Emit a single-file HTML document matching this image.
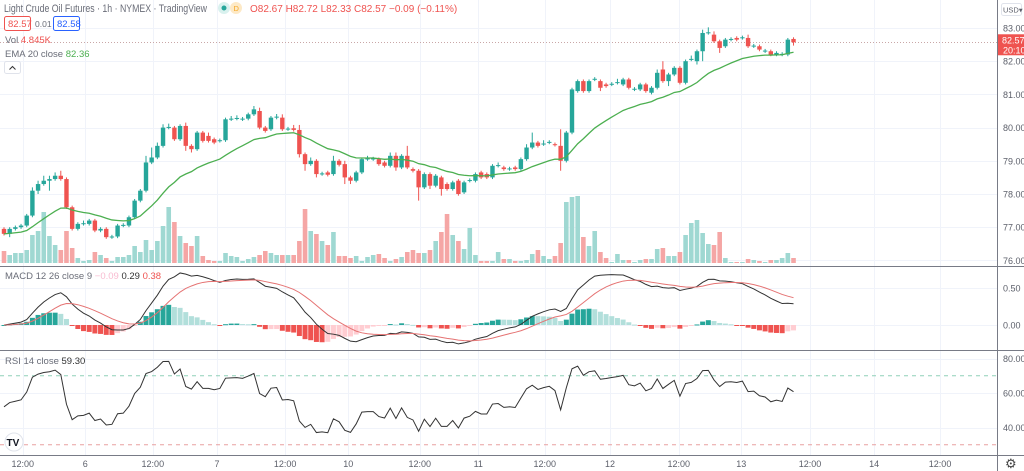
<!DOCTYPE html>
<html><head><meta charset="utf-8"><style>
html,body{margin:0;padding:0;background:#fff;width:1024px;height:471px;overflow:hidden;font-family:"Liberation Sans",sans-serif}
svg text{font-family:"Liberation Sans",sans-serif}
</style></head><body>
<svg id="chart" width="1024" height="471" xmlns="http://www.w3.org/2000/svg">
<g id="grid"></g>
<g id="vol"></g>
<g id="candles"></g>
<g id="ema"></g>
<g id="macd"></g>
<g id="rsi"></g>
<g id="axes"></g>
<g font-size="12">
  <text x="4" y="12" font-size="10.8" fill="#6a6d78" textLength="203" lengthAdjust="spacingAndGlyphs">Light Crude Oil Futures · 1h · NYMEX · TradingView</text>
  <circle cx="224" cy="8" r="6" fill="#d9f1ee"/>
  <circle cx="224" cy="8" r="2.5" fill="#26a69a"/>
  <circle cx="236" cy="8" r="6" fill="#fde9c6"/>
  <text x="233.5" y="11" font-size="7.5" fill="#f5a623">D</text>
  <text x="250" y="12" fill="#ef5350" font-size="10">O82.67 H82.72 L82.33 C82.57 −0.09 (−0.11%)</text>
  <rect x="4.5" y="16.5" width="26" height="14" rx="2" fill="#fff" stroke="#ef5350"/>
  <text x="8" y="27" font-size="9.5" fill="#ef5350">82.57</text>
  <text x="35" y="27" font-size="8.5" fill="#6a6d78">0.01</text>
  <rect x="53.5" y="16.5" width="26" height="14" rx="2" fill="#fff" stroke="#2962ff"/>
  <text x="57" y="27" font-size="9.5" fill="#2962ff">82.58</text>
  <text x="5" y="43" font-size="9.5" fill="#6a6d78">Vol <tspan fill="#ef5350">4.845K</tspan></text>
  <text x="5" y="57" font-size="9.5" fill="#6a6d78">EMA 20 close <tspan fill="#4caf50">82.36</tspan></text>
  <rect x="4.5" y="61.5" width="16" height="12" rx="2" fill="#fff" stroke="#e0e3eb"/>
  <path d="M9.5 69.5 L12.5 66.5 L15.5 69.5" fill="none" stroke="#333"/>
  <text x="5" y="279" font-size="9.5" fill="#6a6d78">MACD 12 26 close 9 <tspan fill="#f8bbd0">−0.09</tspan> <tspan fill="#333">0.29</tspan> <tspan fill="#ef5350">0.38</tspan></text>
  <text x="5" y="364" font-size="9.5" fill="#6a6d78">RSI 14 close <tspan fill="#333">59.30</tspan></text>
  <circle cx="14" cy="442" r="9" fill="#fff" stroke="#e0e3eb"/>
  <text x="6.5" y="446" font-size="10" font-weight="bold" fill="#131722">TV</text>
</g>
</svg>
<script>
const opens=[76.95,76.8,76.95,77.0,77.05,77.35,78.1,78.3,78.4,78.45,78.55,78.45,77.6,76.95,77.1,77.1,77.2,76.9,76.95,76.7,76.72,77.05,77.05,77.3,77.8,78.1,78.95,79.1,79.45,80.0,80.0,79.65,80.05,79.45,79.35,79.85,79.75,79.65,79.6,79.62,80.25,80.27,80.25,80.27,80.4,80.5,80.0,79.95,80.3,80.3,79.95,79.98,79.93,79.2,78.9,79.0,78.6,78.65,78.6,79.0,
78.9,78.5,78.4,78.65,79.05,79.05,79.05,78.95,78.85,79.15,78.8,79.15,78.75,78.7,78.2,78.6,78.25,78.5,78.3,78.15,78.4,78.05,78.4,78.4,78.65,78.6,78.5,78.85,78.8,78.75,78.8,78.75,79.05,79.4,79.55,79.5,79.55,79.5,79.45,79.0,79.85,
81.1,81.4,81.1,81.45,81.4,81.3,81.3,81.35,81.3,81.45,81.15,81.15,81.3,81.05,81.2,81.75,81.4,81.6,81.8,81.35,82.05,82.0,82.3,82.85,82.8,82.6,82.45,82.65,82.7,82.7,82.7,82.45,82.45,82.3,82.3,82.2,82.2,82.2,82.67];
const closes=[76.8,76.95,77.0,77.05,77.35,78.1,78.3,78.4,78.45,78.55,78.45,77.6,76.95,77.1,77.12,77.2,76.9,76.95,76.7,76.72,77.05,77.07,77.3,77.8,78.1,78.95,79.1,79.45,80.0,80.02,79.65,80.05,79.45,79.35,79.85,79.6,79.6,79.55,79.62,80.25,80.27,80.29,80.27,80.4,80.55,80.0,79.9,80.3,80.33,79.95,79.97,79.93,79.2,78.9,79.0,78.6,78.62,78.58,79.0,78.88,
78.5,78.4,78.65,79.05,79.07,79.07,78.9,78.85,79.15,78.8,79.15,78.8,78.7,78.2,78.6,78.25,78.55,78.15,78.15,78.35,78.0,78.35,78.42,78.6,78.5,78.5,78.85,78.87,78.75,78.77,78.75,79.05,79.4,79.55,79.45,79.52,79.57,79.48,79.0,79.85,81.15,
81.4,81.1,81.4,81.47,81.2,81.25,81.32,81.37,81.45,81.2,81.17,81.3,81.1,81.2,81.65,81.4,81.6,81.8,81.35,82.0,82.07,82.3,82.85,82.87,82.6,82.4,82.65,82.67,82.65,82.72,82.45,82.47,82.35,82.32,82.2,82.25,82.22,82.65,82.57];
const wickUp=[0.05,0.05,0.05,0.05,0.05,0.1,0.1,0.15,0.1,0.1,0.15,0.05,0.05,0.05,0.08,0.05,0.05,0.05,0.05,0.05,0.05,0.05,0.05,0.05,0.05,0.2,0.3,0.1,0.1,0.1,0.05,0.05,0.1,0.05,0.05,0.05,0.1,0.05,0.05,0.05,0.08,0.08,0.05,0.05,0.1,0.1,0.05,0.05,0.08,0.1,0.05,0.1,0.15,0.05,0.1,0.05,0.05,0.05,0.15,0.05,
0.1,0.05,0.05,0.05,0.08,0.05,0.05,0.05,0.1,0.1,0.05,0.3,0.05,0.05,0.05,0.05,0.05,0.05,0.05,0.05,0.05,0.05,0.05,0.05,0.05,0.05,0.05,0.08,0.05,0.05,0.05,0.05,0.1,0.3,0.05,0.1,0.05,0.05,0.5,0.05,0.05,
0.05,0.05,0.05,0.05,0.05,0.05,0.05,0.1,0.05,0.05,0.05,0.05,0.05,0.05,0.1,0.25,0.05,0.05,0.05,0.05,0.1,0.05,0.1,0.15,0.1,0.05,0.05,0.05,0.05,0.05,0.1,0.05,0.05,0.05,0.05,0.05,0.05,0.05,0.05];
const wickDn=[0.05,0.1,0.05,0.05,0.05,0.05,0.1,0.05,0.3,0.05,0.05,0.05,0.05,0.05,0.05,0.05,0.05,0.05,0.05,0.05,0.05,0.05,0.05,0.05,0.05,0.05,0.05,0.05,0.05,0.05,0.05,0.05,0.15,0.1,0.05,0.05,0.05,0.05,0.05,0.05,0.05,0.05,0.05,0.05,0.05,0.05,0.05,0.05,0.05,0.05,0.05,0.05,0.1,0.2,0.05,0.1,0.05,0.05,0.05,0.05,
0.2,0.1,0.05,0.05,0.05,0.05,0.05,0.05,0.05,0.1,0.05,0.05,0.05,0.4,0.05,0.1,0.05,0.2,0.05,0.05,0.05,0.05,0.05,0.05,0.05,0.05,0.05,0.05,0.05,0.05,0.05,0.05,0.05,0.05,0.05,0.05,0.05,0.05,0.3,0.05,0.05,
0.05,0.05,0.05,0.05,0.1,0.05,0.05,0.05,0.05,0.05,0.05,0.05,0.05,0.05,0.05,0.05,0.15,0.05,0.05,0.05,0.05,0.1,0.3,0.05,0.05,0.15,0.05,0.05,0.05,0.05,0.05,0.05,0.05,0.05,0.05,0.05,0.05,0.05,0.1,0.05];
const volumes=[12,8,10,10,13,28,32,51,27,18,13,32,15,5,2,3,11,8,5,2,6,6,8,17,11,23,13,22,37,56,41,27,20,17,27,7,3,2,2,10,7,6,2,4,6,8,12,10,8,8,8,8,22,54,32,29,22,18,31,7,
7,5,7,2,6,8,9,5,2,4,6,11,13,10,10,13,22,31,49,28,22,14,35,8,2,2,2,11,4,4,2,2,3,9,13,7,4,7,20,61,66,
67,26,17,32,11,5,1,9,3,3,1,3,4,4,14,15,7,7,11,28,40,43,30,19,18,31,5,1,1,1,4,3,2,1,3,3,5,10,5];
const priceTicks=[83,82,81,80,79,78,77,76];
const macdTicks=[0.5,0];
const rsiTicks=[80,60,40];
const timeLabels=["12:00","6","12:00","7","12:00","10","12:00","11","12:00","12","12:00","13","12:00","14","12:00"];
const timeIdx=[3.3,14.3,26.2,37.5,49.5,60.6,73.2,83.5,95.2,106.7,118.8,129.8,141.9,153.2,164.8];

const NS="http://www.w3.org/2000/svg";
const PW=997;
function xOf(i){return 4+i*5.68;}
function yP(p){return 28+(83-p)*33.2;}
function yV(v){return 263-v*1.0;}
function yM(v){return 325-v*74;}
function yR(v){return 393-(v-60)*1.725;}
function mk(tag,attrs,parent){const e=document.createElementNS(NS,tag);for(const k in attrs)e.setAttribute(k,attrs[k]);parent.appendChild(e);return e;}
const G=id=>document.getElementById(id);

const grid=G('grid');
timeIdx.forEach((t,k)=>{const x=Math.round(xOf(t))+0.5;if(x<PW){const l=mk('line',{x1:x,x2:x,y1:0,y2:455,stroke:'#f0f3fa'},grid);

}});
priceTicks.forEach(p=>{const y=Math.round(yP(p))+0.5;const l=mk('line',{x1:0,x2:PW,y1:y,y2:y,stroke:'#f0f3fa'},grid);

});
macdTicks.forEach(v=>{const y=Math.round(yM(v))+0.5;const l=mk('line',{x1:0,x2:PW,y1:y,y2:y,stroke:'#f0f3fa'},grid);

});
rsiTicks.forEach(v=>{const y=Math.round(yR(v))+0.5;const l=mk('line',{x1:0,x2:PW,y1:y,y2:y,stroke:'#f0f3fa'},grid);

});

const vg=G('vol');
volumes.forEach((v,i)=>{const up=closes[i]>=opens[i];const r=mk('rect',{x:xOf(i)-2.3,y:yV(v),width:4.6,height:263-yV(v),fill:up?'#9fd8d2':'#f5a6a5'},vg);

});

const lpy=Math.round(yP(closes[closes.length-1]))+0.5;
const lp=mk('line',{x1:0,x2:PW,y1:lpy,y2:lpy,stroke:'#c9a7a7','stroke-dasharray':'1 2'},vg);



const cg=G('candles');
closes.forEach((c,i)=>{const o=opens[i];const up=c>=o;const col=up?'#26a69a':'#ef5350';const x=xOf(i);
const hi=Math.max(o,c)+wickUp[i],lo=Math.min(o,c)-wickDn[i];
const w=mk('line',{x1:x,x2:x,y1:yP(hi),y2:yP(lo),stroke:col,'stroke-width':1},cg);


const top=yP(Math.max(o,c)),bot=yP(Math.min(o,c));
const b=mk('rect',{x:x-2.2,y:top,width:4.4,height:Math.max(1,bot-top),fill:col},cg);

});

function ema(arr,n){const k=2/(n+1);const out=[];let e=arr[0];arr.forEach((v,i)=>{e=i?v*k+e*(1-k):v;out.push(e);});return out;}
const e20=ema(closes,20);
const ep=mk('polyline',{points:e20.map((v,i)=>xOf(i)+','+yP(v)).join(' '),fill:'none',stroke:'#4caf50','stroke-width':1.3},G('ema'));



const e12=ema(closes,12),e26=ema(closes,26);
const macd=closes.map((_,i)=>e12[i]-e26[i]);
const sig=ema(macd,9);
const mg=G('macd');
macd.forEach((m,i)=>{const h=m-sig[i];const prev=i?macd[i-1]-sig[i-1]:0;
const col=h>=0?(h>=prev?'#26a69a':'#b2dfdb'):(h<prev?'#ef5350':'#ffcdd2');
const y0=yM(0),y1=yM(h*0.9);
const r=mk('rect',{x:xOf(i)-2.5,y:Math.min(y0,y1),width:5,height:Math.max(1,Math.abs(y1-y0)),fill:col},mg);

});
const ml=mk('polyline',{points:macd.map((v,i)=>xOf(i)+','+yM(v)).join(' '),fill:'none',stroke:'#333','stroke-width':1},mg);


const sl=mk('polyline',{points:sig.map((v,i)=>xOf(i)+','+yM(v)).join(' '),fill:'none',stroke:'#e57373','stroke-width':1},mg);



const rg=G('rsi');
const l70=mk('line',{x1:0,x2:PW,y1:yR(70),y2:yR(70),stroke:'#8fd0b8','stroke-dasharray':'4 4'},rg);


const l30=mk('line',{x1:0,x2:PW,y1:yR(30),y2:yR(30),stroke:'#e8a0a0','stroke-dasharray':'4 4'},rg);


const rsi=[];let ag=0,al=0;
closes.forEach((c,i)=>{if(i===0){rsi.push(52);ag=0.12;al=0.11;return;}const d=c-closes[i-1];ag=(ag*13+Math.max(d,0))/14;al=(al*13+Math.max(-d,0))/14;rsi.push(100-100/(1+ag/al));});
const rl=mk('polyline',{points:rsi.map((v,i)=>xOf(i)+','+yR(v)).join(' '),fill:'none',stroke:'#333','stroke-width':1},rg);



const ax=G('axes');
[266,350,455].forEach(y=>{const l=mk('line',{x1:0,x2:1024,y1:y+0.5,y2:y+0.5,stroke:'#787b86'},ax);

});
const va=mk('line',{x1:PW+0.5,x2:PW+0.5,y1:0,y2:471,stroke:'#787b86'},ax);


function lab(x,y,t,name,fill){const e=mk('text',{x:x,y:y,'font-size':'9',fill:fill||'#5d606b'},ax);e.textContent=t;

return e;}
priceTicks.forEach(p=>lab(1003,yP(p)+3.5,p.toFixed(2),'price-tick-label'));
macdTicks.forEach(v=>lab(1003,yM(v)+3.5,v.toFixed(2),'macd-tick-label'));
rsiTicks.forEach(v=>lab(1003,yR(v)+3.5,v.toFixed(2),'rsi-tick-label'));
timeLabels.forEach((t,k)=>{const x=xOf(timeIdx[k]);if(x<PW-8){const e=lab(x,467,t,'time-tick-label');e.setAttribute('text-anchor','middle');}});
const lpv=closes[closes.length-1];
const box=mk('rect',{x:998,y:yP(lpv)-8,width:26,height:21,fill:'#ef5350'},ax);


lab(1002,yP(lpv)+1,lpv.toFixed(2),'last-price-label','#fff');
lab(1003,yP(lpv)+11,'20:10','countdown-label','#fff');
const usd=mk('rect',{x:1001.5,y:3.5,width:20,height:12,rx:2,fill:'#fff',stroke:'#e0e3eb'},ax);


lab(1003,12.5,'USD▾','currency-label').setAttribute('font-size','7.5');
const gear=mk('text',{x:1005,y:468,'font-size':'13',fill:'#444'},ax);gear.textContent='⚙';


</script>
</body></html>
